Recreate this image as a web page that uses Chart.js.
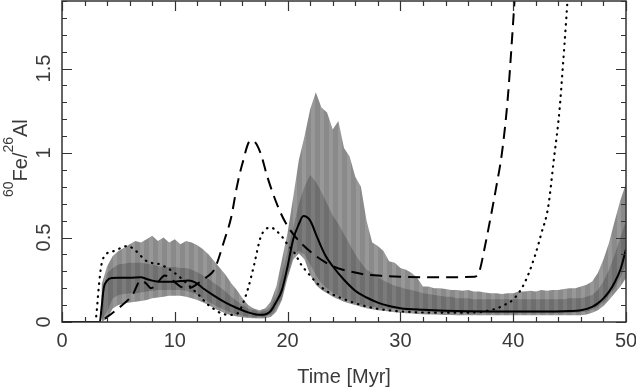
<!DOCTYPE html>
<html lang="en">
<head>
    <meta charset="UTF-8">
    <title>60Fe/26Al ratio</title>
    <script src="https://cdn.jsdelivr.net/npm/chart.js"></script>
    <style>
        html, body { margin: 0; padding: 0; background: #fff; }
        #wrap { width: 636px; height: 388px; position: relative; }
    </style>
</head>
<body>
    <div id="wrap"><canvas id="ratioChart"></canvas></div>

    <script>
        // axis ticks
        const xTicks = [0, 10, 20, 30, 40, 50];
        const xTickLabels = ['0', '10', '20', '30', '40', '50'];
        const yTicks = [0, 0.5, 1, 1.5];
        const yTickLabels = ['0', '0.5', '1', '1.5'];

        // percentile bands, one value every 0.5 Myr from 3.5 Myr
        const bandStart = 3.5;
        const bandStep = 0.5;
        const outerHi = [
            0.22, 0.33, 0.39, 0.42, 0.44, 0.46, 0.48, 0.47, 0.49, 0.51,
            0.48, 0.50, 0.47, 0.49, 0.46, 0.48, 0.47, 0.455, 0.43, 0.40,
            0.36, 0.32, 0.28, 0.23, 0.19, 0.14, 0.10, 0.08, 0.07, 0.08,
            0.12, 0.21, 0.37, 0.53, 0.74, 0.96, 1.10, 1.26, 1.36, 1.27,
            1.24, 1.14, 1.19, 1.03, 0.98, 0.86, 0.80, 0.60, 0.47, 0.45,
            0.42, 0.36, 0.35, 0.32, 0.31, 0.29, 0.26, 0.21, 0.21, 0.20,
            0.20, 0.195, 0.19, 0.19, 0.185, 0.19, 0.18, 0.18, 0.175, 0.17,
            0.17, 0.165, 0.17, 0.17, 0.18, 0.18, 0.185, 0.18, 0.19, 0.185,
            0.19, 0.19, 0.195, 0.20, 0.20, 0.21, 0.22, 0.24, 0.29, 0.37,
            0.47, 0.60, 0.72, 0.82
        ];
        const outerLo = [
            0.0, 0.02, 0.08, 0.10, 0.11, 0.115, 0.12, 0.125, 0.13, 0.14,
            0.145, 0.15, 0.155, 0.155, 0.155, 0.15, 0.14, 0.13, 0.115, 0.10,
            0.08, 0.065, 0.05, 0.04, 0.033, 0.028, 0.024, 0.022, 0.02, 0.022,
            0.03, 0.06, 0.13, 0.26, 0.37, 0.405, 0.37, 0.28, 0.22, 0.19,
            0.17, 0.15, 0.135, 0.12, 0.11, 0.10, 0.09, 0.082, 0.076, 0.07,
            0.066, 0.062, 0.058, 0.055, 0.052, 0.05, 0.048, 0.046, 0.045, 0.044,
            0.043, 0.042, 0.041, 0.04, 0.04, 0.04, 0.04, 0.04, 0.04, 0.04,
            0.04, 0.04, 0.04, 0.04, 0.04, 0.04, 0.04, 0.04, 0.04, 0.04,
            0.04, 0.04, 0.04, 0.04, 0.04, 0.04, 0.045, 0.055, 0.07, 0.095,
            0.13, 0.17, 0.21, 0.26
        ];
        const innerHi = [
            0.16, 0.29, 0.32, 0.34, 0.345, 0.35, 0.35, 0.35, 0.345, 0.34,
            0.33, 0.325, 0.325, 0.325, 0.32, 0.32, 0.31, 0.295, 0.275, 0.255,
            0.23, 0.205, 0.18, 0.15, 0.125, 0.10, 0.08, 0.07, 0.06, 0.065,
            0.09, 0.16, 0.28, 0.42, 0.56, 0.70, 0.80, 0.87, 0.83, 0.77,
            0.70, 0.63, 0.58, 0.52, 0.46, 0.40, 0.35, 0.31, 0.29, 0.265,
            0.245, 0.23, 0.215, 0.205, 0.195, 0.19, 0.18, 0.17, 0.165, 0.16,
            0.155, 0.15, 0.15, 0.14, 0.14, 0.14, 0.135, 0.135, 0.135, 0.135,
            0.135, 0.135, 0.135, 0.135, 0.135, 0.135, 0.135, 0.135, 0.135, 0.135,
            0.135, 0.135, 0.135, 0.14, 0.14, 0.14, 0.15, 0.16, 0.19, 0.24,
            0.31, 0.40, 0.50, 0.60
        ];
        const innerLo = [
            0.01, 0.06, 0.14, 0.16, 0.165, 0.17, 0.17, 0.175, 0.18, 0.185,
            0.19, 0.19, 0.19, 0.19, 0.19, 0.185, 0.175, 0.16, 0.14, 0.12,
            0.10, 0.085, 0.07, 0.055, 0.045, 0.037, 0.032, 0.03, 0.028, 0.032,
            0.045, 0.08, 0.15, 0.28, 0.40, 0.42, 0.40, 0.34, 0.28, 0.23,
            0.20, 0.175, 0.155, 0.14, 0.125, 0.112, 0.103, 0.096, 0.09, 0.086,
            0.082, 0.078, 0.075, 0.072, 0.07, 0.068, 0.066, 0.064, 0.062, 0.06,
            0.058, 0.056, 0.055, 0.054, 0.053, 0.052, 0.052, 0.052, 0.052, 0.052,
            0.052, 0.052, 0.052, 0.052, 0.052, 0.052, 0.052, 0.052, 0.052, 0.052,
            0.052, 0.052, 0.052, 0.053, 0.055, 0.057, 0.062, 0.072, 0.09, 0.115,
            0.155, 0.20, 0.26, 0.34
        ];

        // median (solid line)
        const medianT = [0, 3.35, 3.5, 3.7, 4.0, 4.4, 5, 6, 7, 7.5, 8, 8.7, 9.5, 10.5, 11.2, 11.8, 12.5, 13.5, 14.5, 15.5, 16.5, 17.2, 17.8, 18.5, 19, 19.5, 20, 20.5, 21, 21.4, 22, 22.6, 23.3, 24, 25, 26, 27, 28, 29, 30, 32, 34, 38, 42, 45, 46, 47, 47.5, 48, 48.5, 49, 49.5, 50];
        const median = [0, 0, 0.08, 0.2, 0.245, 0.26, 0.262, 0.262, 0.265, 0.255, 0.245, 0.238, 0.238, 0.242, 0.245, 0.235, 0.2, 0.155, 0.115, 0.083, 0.057, 0.045, 0.043, 0.065, 0.12, 0.19, 0.33, 0.49, 0.58, 0.627, 0.6, 0.505, 0.4, 0.33, 0.25, 0.185, 0.145, 0.115, 0.095, 0.082, 0.072, 0.066, 0.062, 0.062, 0.065, 0.07, 0.09, 0.11, 0.14, 0.18, 0.235, 0.31, 0.43];

        // dashed model
        const dashT = [3.8, 4.5, 5.5, 6.3, 6.8, 7.1, 7.5, 7.9, 8.4, 8.8, 9.1, 9.5, 10.0, 10.5, 11.0, 11.5, 12.2, 12.8, 13.5, 14.4, 15.0, 15.5, 16.0, 16.7, 17.0, 17.6, 18.2, 19.1, 19.8, 20.5, 21.2, 22.6, 24.1, 25.6, 27, 28.6, 30, 33, 36.6, 37.0, 37.5, 38, 38.5, 39, 39.5, 40, 40.3];
        const dash = [0.02, 0.055, 0.11, 0.165, 0.235, 0.245, 0.225, 0.2, 0.225, 0.26, 0.275, 0.265, 0.235, 0.21, 0.2, 0.205, 0.235, 0.265, 0.31, 0.485, 0.62, 0.8, 0.94, 1.073, 1.07, 1.0, 0.86, 0.69, 0.59, 0.52, 0.466, 0.386, 0.327, 0.298, 0.28, 0.272, 0.268, 0.265, 0.268, 0.3, 0.45, 0.62, 0.8, 1.0, 1.31, 1.78, 2.1];

        // dotted model
        const dotT = [0, 2.95, 3.1, 3.25, 3.5, 3.9, 4.6, 5.3, 5.8, 6.3, 6.8, 7.3, 7.8, 8.5, 9.2, 10.0, 10.8, 11.5, 12.2, 12.9, 13.5, 14.1, 14.8, 15.3, 15.7, 16.1, 16.5, 17.0, 17.6, 18.0, 18.5, 19.0, 19.5, 20.1, 20.6, 21.2, 21.8, 22.6, 23.3, 24.1, 25, 25.6, 27.1, 28.5, 30, 33, 36, 38.3, 39.2, 40.1, 41, 41.9, 42.5, 43.1, 43.6, 44.1, 44.4, 44.7, 45.0];
        const dot = [0, 0, 0.08, 0.2, 0.34, 0.4, 0.42, 0.44, 0.45, 0.435, 0.405, 0.37, 0.352, 0.345, 0.325, 0.29, 0.245, 0.2, 0.155, 0.105, 0.075, 0.052, 0.042, 0.045, 0.06, 0.12, 0.2, 0.33, 0.5, 0.545, 0.56, 0.54, 0.505, 0.45, 0.41, 0.34, 0.29, 0.23, 0.19, 0.16, 0.135, 0.12, 0.09, 0.073, 0.063, 0.055, 0.055, 0.075, 0.1, 0.14, 0.23, 0.386, 0.525, 0.68, 0.96, 1.25, 1.51, 1.79, 2.1];

        function bandLine(vs) {
            return vs.map((v, i) => ({ x: bandStart + i * bandStep, y: v }));
        }
        function linePoints(ts, vs) {
            return ts.map((t, i) => ({ x: t, y: vs[i] }));
        }
        // vertical stripes like the original rendering
        function stripes(c1, c2) {
            const p = document.createElement('canvas');
            p.width = 9; p.height = 4;
            const g = p.getContext('2d');
            g.fillStyle = c1; g.fillRect(0, 0, 5, 4);
            g.fillStyle = c2; g.fillRect(5, 0, 4, 4);
            return g.createPattern(p, 'repeat');
        }

        const axisFont = '20px "Liberation Sans", Arial, sans-serif';
        const textColor = '#3a3a3a';

        // frame, inward ticks, labels and titles
        const framePlugin = {
            id: 'frame',
            afterDraw(chart) {
                const ctx = chart.ctx;
                const a = chart.chartArea;
                const xs = chart.scales.x;
                const ys = chart.scales.y;
                ctx.save();
                ctx.strokeStyle = '#333';
                ctx.lineWidth = 1.5;
                ctx.strokeRect(a.left, a.top, a.right - a.left, a.bottom - a.top);

                ctx.beginPath();
                for (let v = 0; v <= 50; v += 2) {
                    const px = Math.round(xs.getPixelForValue(v)) + 0.5;
                    const len = xTicks.includes(v) ? 10 : 5;
                    ctx.moveTo(px, a.bottom); ctx.lineTo(px, a.bottom - len);
                    ctx.moveTo(px, a.top); ctx.lineTo(px, a.top + len);
                }
                for (let k = 0; k <= 19; k++) {
                    const py = Math.round(ys.getPixelForValue(k / 10)) + 0.5;
                    const len = k % 5 === 0 ? 10 : 5;
                    ctx.moveTo(a.left, py); ctx.lineTo(a.left + len, py);
                    ctx.moveTo(a.right, py); ctx.lineTo(a.right - len, py);
                }
                ctx.lineWidth = 1.2;
                ctx.stroke();

                ctx.fillStyle = textColor;
                ctx.font = axisFont;
                ctx.textAlign = 'center';
                ctx.textBaseline = 'middle';
                xTicks.forEach((v, i) => {
                    ctx.fillText(xTickLabels[i], xs.getPixelForValue(v), a.bottom + 19);
                });
                yTicks.forEach((v, i) => {
                    ctx.save();
                    ctx.translate(a.left - 18, ys.getPixelForValue(v));
                    ctx.rotate(-Math.PI / 2);
                    ctx.fillText(yTickLabels[i], 0, 0);
                    ctx.restore();
                });

                ctx.fillText('Time [Myr]', (a.left + a.right) / 2, a.bottom + 55);

                // y title with superscripts
                const parts = [
                    { t: '60', sup: true }, { t: 'Fe' }, { t: '/' },
                    { t: '26', sup: true }, { t: 'Al' }
                ];
                const supFont = '14px "Liberation Sans", Arial, sans-serif';
                let total = 0;
                parts.forEach(p => {
                    ctx.font = p.sup ? supFont : axisFont;
                    p.w = ctx.measureText(p.t).width;
                    total += p.w;
                });
                ctx.save();
                ctx.translate(27, ys.getPixelForValue(0.97));
                ctx.rotate(-Math.PI / 2);
                ctx.textAlign = 'left';
                ctx.textBaseline = 'alphabetic';
                let cx = -total / 2;
                parts.forEach(p => {
                    ctx.font = p.sup ? supFont : axisFont;
                    ctx.fillText(p.t, cx, p.sup ? -14 : 0);
                    cx += p.w;
                });
                ctx.restore();
                ctx.restore();
            }
        };

        const hidden = 'rgba(0,0,0,0)';
        const ctx = document.getElementById('ratioChart').getContext('2d');
        new Chart(ctx, {
            type: 'line',
            data: {
                datasets: [
                    {
                        label: 'median',
                        data: linePoints(medianT, median),
                        borderColor: '#000',
                        borderWidth: 2,
                        pointRadius: 0,
                        cubicInterpolationMode: 'monotone',
                        order: 0
                    },
                    {
                        label: 'dashed',
                        data: linePoints(dashT, dash),
                        borderColor: '#000',
                        borderWidth: 2,
                        borderDash: [12, 7],
                        pointRadius: 0,
                        cubicInterpolationMode: 'monotone',
                        order: 1
                    },
                    {
                        label: 'dotted',
                        data: linePoints(dotT, dot),
                        borderColor: '#000',
                        borderWidth: 2.2,
                        borderDash: [0.5, 6],
                        borderCapStyle: 'round',
                        pointRadius: 0,
                        cubicInterpolationMode: 'monotone',
                        order: 2
                    },
                    {
                        label: 'inner high',
                        data: bandLine(innerHi),
                        borderColor: hidden,
                        borderWidth: 1,
                        backgroundColor: stripes('#6e6e6e', '#7b7b7b'),
                        fill: 4,
                        pointRadius: 0,
                        tension: 0,
                        order: 3
                    },
                    {
                        label: 'inner low',
                        data: bandLine(innerLo),
                        borderColor: hidden,
                        borderWidth: 1,
                        pointRadius: 0,
                        tension: 0,
                        fill: false,
                        order: 3
                    },
                    {
                        label: 'outer high',
                        data: bandLine(outerHi),
                        borderColor: hidden,
                        borderWidth: 1,
                        backgroundColor: stripes('#8a8a8a', '#989898'),
                        fill: 6,
                        pointRadius: 0,
                        tension: 0,
                        order: 5
                    },
                    {
                        label: 'outer low',
                        data: bandLine(outerLo),
                        borderColor: hidden,
                        borderWidth: 1,
                        pointRadius: 0,
                        tension: 0,
                        fill: false,
                        order: 5
                    }
                ]
            },
            options: {
                responsive: true,
                maintainAspectRatio: false,
                animation: false,
                layout: { padding: { left: 62, right: 10, top: 1, bottom: 66 } },
                plugins: { legend: { display: false }, tooltip: { enabled: false } },
                scales: {
                    x: { type: 'linear', min: 0, max: 50, offset: false, display: false },
                    y: { type: 'linear', min: 0, max: 1.9, display: false }
                }
            },
            plugins: [framePlugin]
        });
    </script>
</body>
</html>
